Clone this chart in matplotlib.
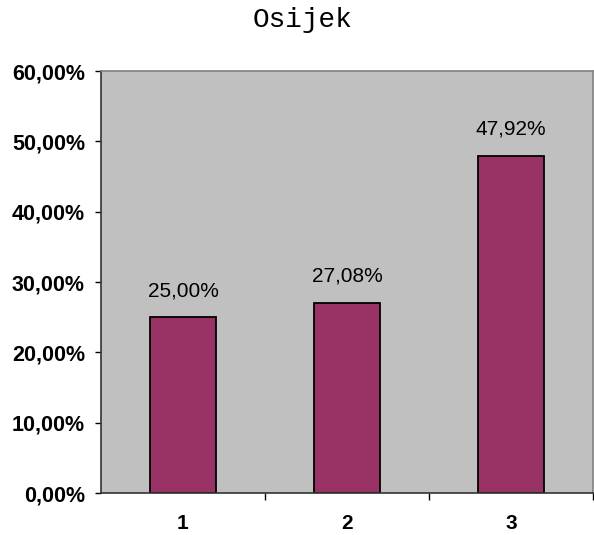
import matplotlib.pyplot as plt
import numpy as np

categories = ['1', '2', '3']
values = [25.00, 27.08, 47.92]
y_ticks = [0, 10, 20, 30, 40, 50, 60]

plt.rcParams['font.family'] = ['Liberation Sans', 'DejaVu Sans']

fig = plt.figure(figsize=(5.94, 5.35), dpi=100)
ax = fig.add_axes([0.170, 0.0785, 0.828, 0.7885])
ax.set_facecolor('#C0C0C0')

x = np.arange(1, len(categories) + 1)
ax.bar(x, values, width=0.406, color='#993366', edgecolor='black', linewidth=1.3)

# data labels above bars
for xi, v in zip(x, values):
    ax.text(xi, v + 3.8, f'{v:.2f}%'.replace('.', ','), ha='center', va='center',
            fontsize=15)

ax.set_xlim(0.5, 3.5)
ax.set_ylim(0, 60)
ax.set_yticks(y_ticks)
ax.set_yticklabels([f'{t:.2f}%'.replace('.', ',') for t in y_ticks],
                   fontsize=15.5, fontweight='bold')
ax.set_xticks(x)
ax.set_xticklabels(categories, fontsize=15, fontweight='bold')
ax.tick_params(axis='x', length=0, pad=15)
ax.set_xticks([1.5, 2.5, 3.5], minor=True)
ax.tick_params(axis='x', which='minor', length=5, width=1, direction='out')
ax.tick_params(axis='y', length=4.5, width=1, direction='out', pad=7)

for side in ['top', 'right']:
    ax.spines[side].set_color('#808080')
    ax.spines[side].set_linewidth(1.2)
for side in ['left', 'bottom']:
    ax.spines[side].set_color('#333333')
    ax.spines[side].set_linewidth(1.2)

fig.text(0.51, 0.963, 'Osijek', ha='center', va='center', fontsize=20,
         family='Liberation Mono')

fig.savefig('out.png', dpi=100)
